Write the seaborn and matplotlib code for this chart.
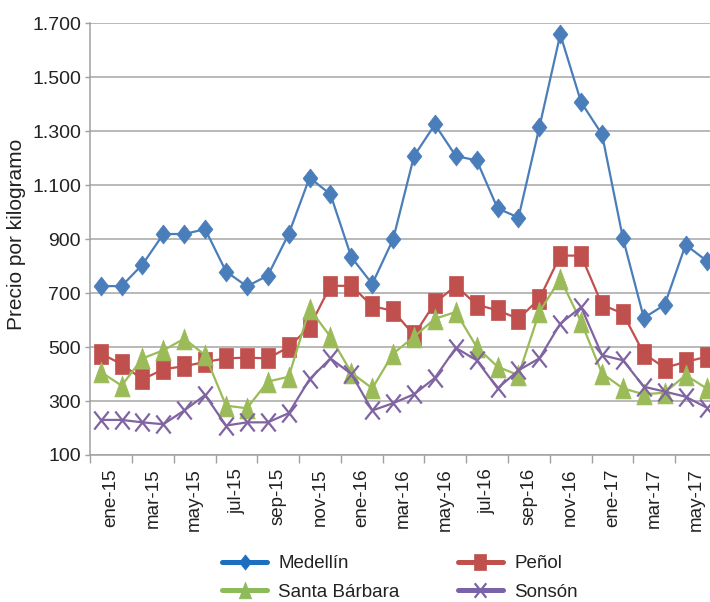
import numpy as np
import pandas as pd
import matplotlib
matplotlib.use("Agg")
import matplotlib.pyplot as plt
from matplotlib.path import Path
from matplotlib.lines import Line2D
from matplotlib.ticker import FixedLocator, FuncFormatter
import seaborn as sns

# Monthly prices (ene-15 .. jun-17)
months = ["ene-15", "feb-15", "mar-15", "abr-15", "may-15", "jun-15",
          "jul-15", "ago-15", "sep-15", "oct-15", "nov-15", "dic-15",
          "ene-16", "feb-16", "mar-16", "abr-16", "may-16", "jun-16",
          "jul-16", "ago-16", "sep-16", "oct-16", "nov-16", "dic-16",
          "ene-17", "feb-17", "mar-17", "abr-17", "may-17", "jun-17"]

medellin = [726, 726, 806, 919, 919, 937, 780, 725, 765, 919, 1128, 1066,
            833, 734, 900, 1208, 1325, 1208, 1192, 1014, 980, 1315, 1659, 1407,
            1288, 903, 608, 657, 879, 820]
penol = [476, 437, 380, 418, 429, 445, 458, 461, 458, 500, 575, 727,
         727, 652, 634, 544, 664, 727, 657, 636, 605, 679, 839, 839,
         657, 624, 476, 423, 445, 464]
santa_barbara = [408, 357, 458, 488, 531, 470, 283, 273, 372, 390, 642, 538,
                 405, 347, 476, 538, 605, 630, 500, 427, 396, 630, 753, 593,
                 402, 347, 325, 331, 396, 347]
sonson = [230, 230, 221, 214, 265, 322, 209, 221, 221, 255, 381, 458,
          400, 265, 292, 325, 386, 497, 451, 347, 414, 458, 587, 648,
          470, 451, 353, 335, 316, 276]

tick_labels = ["ene-15", "mar-15", "may-15", "jul-15", "sep-15", "nov-15",
               "ene-16", "mar-16", "may-16", "jul-16", "sep-16", "nov-16",
               "ene-17", "mar-17", "may-17"]
y_ticks = [100, 300, 500, 700, 900, 1100, 1300, 1500, 1700]

df = pd.DataFrame({
    "mes": months,
    "pos": np.arange(len(months)),
    "Medellín": medellin,
    "Peñol": penol,
    "Santa Bárbara": santa_barbara,
    "Sonsón": sonson,
})

# Excel style markers (taller than wide)
diamond = Path([(0, 0.5), (0.39, 0), (0, -0.5), (-0.39, 0), (0, 0.5)])
square = Path([(-0.36, -0.5), (0.36, -0.5), (0.36, 0.5), (-0.36, 0.5), (-0.36, -0.5)])
triangle = Path([(-0.37, -0.5), (0.37, -0.5), (0, 0.5), (-0.37, -0.5)])
cross = Path([(-0.4, -0.5), (0.4, 0.5), (-0.4, 0.5), (0.4, -0.5)],
             [Path.MOVETO, Path.LINETO, Path.MOVETO, Path.LINETO])

# name, line colour, legend colour, marker, size, edge width
series = [
    ("Medellín", "#4A7EBB", "#1C6FC0", diamond, 13.7, 0.5),
    ("Peñol", "#C0504D", "#C0504D", square, 14.4, 0.5),
    ("Santa Bárbara", "#9BBB59", "#8DBB5A", triangle, 15.0, 0.5),
    ("Sonsón", "#8064A2", "#7A62A8", cross, 13.0, 1.6),
]

sns.set_style("white")
plt.rcParams["font.family"] = ["Liberation Sans", "DejaVu Sans"]
plt.rcParams["text.color"] = "#222222"

fig = plt.figure(figsize=(7.1, 6.02), dpi=100)
ax = fig.add_axes([0.1271, 0.2442, 0.8827, 0.7171])

for name, color, lcolor, mk, ms, mew in series:
    sns.lineplot(data=df, x="pos", y=name, ax=ax, color=color, linewidth=1.6,
                 marker=mk, markersize=ms, markeredgecolor=color,
                 markerfacecolor=color, markeredgewidth=mew, legend=False,
                 clip_on=False)

ax.set_xlim(-0.5, len(months) - 0.5)
ax.set_ylim(100, 1700)

# tick marks between category pairs, labels centred in each pair
ax.xaxis.set_major_locator(FixedLocator(np.arange(-0.5, len(months), 2)))
ax.xaxis.set_major_formatter(FuncFormatter(lambda v, p: ""))
ax.set_xticks(np.arange(0.5, len(months), 2), tick_labels, minor=True,
              rotation=90)
ax.tick_params(axis="x", which="major", length=6, width=1, color="#A0A0A0",
               direction="out", bottom=True)
ax.tick_params(axis="x", which="minor", length=0, pad=9.5, labelsize=13.5,
               labelcolor="#222222")

ax.set_yticks(y_ticks)
ax.yaxis.set_major_formatter(FuncFormatter(lambda v, p: f"{v:,.0f}".replace(",", ".")))
ax.tick_params(axis="y", length=3.6, width=1, color="#A0A0A0", direction="out",
               left=True, pad=3, labelsize=14, labelcolor="#222222")

ax.grid(axis="y", color="#A6A6A6", linewidth=1.1)
ax.grid(axis="x", visible=False)
for side in ["top", "right"]:
    ax.spines[side].set_visible(False)
for side in ["left", "bottom"]:
    ax.spines[side].set_color("#A0A0A0")
    ax.spines[side].set_linewidth(1.1)

ax.set_xlabel("")
ax.set_ylabel("Precio por kilogramo", fontsize=15, color="#222222")
ax.yaxis.set_label_coords(-0.102, 0.511)

# legend: thick lines, smaller markers, two rows
handles = {}
for name, color, lcolor, mk, ms, mew in series:
    handles[name] = Line2D([], [], color=lcolor, linewidth=3.6,
                           solid_capstyle="round", marker=mk,
                           markersize=ms * 0.8, markerfacecolor=lcolor,
                           markeredgecolor=lcolor, markeredgewidth=mew)
order = ["Medellín", "Santa Bárbara", "Peñol", "Sonsón"]
fig.legend([handles[n] for n in order], order,
           ncol=2, loc="upper left", bbox_to_anchor=(222 / 710, 1 - 555 / 602),
           frameon=False, fontsize=13.5, handlelength=2.4,
           handletextpad=0.6, columnspacing=3.1, labelspacing=0.62,
           borderpad=0, borderaxespad=0)

fig.savefig("out.png", dpi=100)
